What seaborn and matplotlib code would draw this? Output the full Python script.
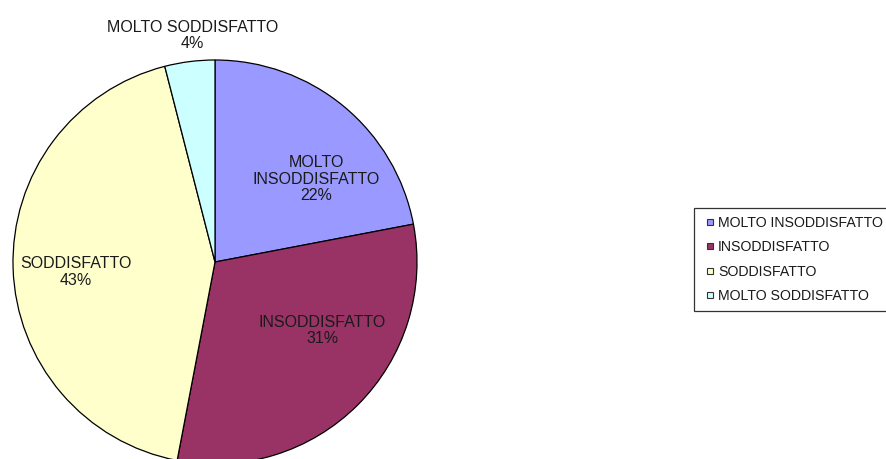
import matplotlib
matplotlib.use('Agg')
import matplotlib.pyplot as plt
import seaborn as sns
from matplotlib.lines import Line2D

# dati
categorie = ['MOLTO INSODDISFATTO', 'INSODDISFATTO', 'SODDISFATTO', 'MOLTO SODDISFATTO']
percentuali = [22, 31, 43, 4]
colori = ['#9999FF', '#993366', '#FFFFCC', '#CCFFFF']
etichette = ['MOLTO\nINSODDISFATTO\n22%', 'INSODDISFATTO\n31%', 'SODDISFATTO\n43%', 'MOLTO SODDISFATTO\n4%']

sns.set_theme(style='white')
plt.rcParams['font.family'] = ['Liberation Sans', 'DejaVu Sans']

W, H = 887, 459
fig = plt.figure(figsize=(W / 100, H / 100), dpi=100)

# asse della torta: centro (215, 262) px, raggio 202 px
cx, cy, r = 215, 262, 202
ax = fig.add_axes([(cx - r) / W, (H - cy - r) / H, 2 * r / W, 2 * r / H])

wedges, _ = ax.pie(percentuali, colors=colori, startangle=90, counterclock=False,
                   radius=1, wedgeprops=dict(edgecolor='black', linewidth=0.9))
ax.set_xlim(-1, 1)
ax.set_ylim(-1, 1)
ax.set_aspect('equal')
ax.axis('off')

# posizione delle etichette (coordinate relative al raggio)
pos_etichette = [(0.50, 0.41), (0.53, -0.34), (-0.69, -0.05), (-0.11, 1.12)]
for testo, (x, y) in zip(etichette, pos_etichette):
    ax.text(x, y, testo, ha='center', va='center', fontsize=11.5,
            color='#1a1a1a', linespacing=1.12, clip_on=False)

# legenda
handles = [Line2D([], [], marker='s', linestyle='', markersize=5,
                  markerfacecolor=c, markeredgecolor='#333333', markeredgewidth=0.8)
           for c in colori]
leg = fig.legend(handles, categorie, loc='upper left',
                 bbox_to_anchor=(694 / W, 1 - 208 / H),
                 fontsize=10.2, frameon=True, fancybox=False,
                 handlelength=1.15, handletextpad=0.0,
                 labelspacing=0.74, borderpad=0.56, borderaxespad=0)
leg.get_frame().set_edgecolor('black')
leg.get_frame().set_linewidth(0.9)
for t in leg.get_texts():
    t.set_color('#1a1a1a')

plt.savefig('out.png', dpi=100)
plt.close()
